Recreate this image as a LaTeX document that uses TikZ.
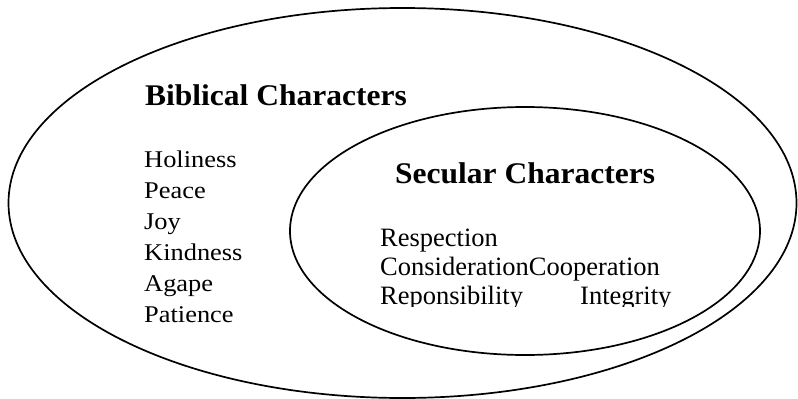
\documentclass[tikz,border=0pt]{standalone}
\usepackage{fontspec}
\setmainfont{Liberation Serif}
\tikzset{
  ring/.style={draw=black, line width=1.7pt},
  titletext/.style={anchor=base west, inner sep=0pt, font=\bfseries\fontsize{30}{30}\selectfont},
  outeritem/.style={anchor=base west, inner sep=0pt, font=\fontsize{24}{24}\selectfont},
  inneritem/.style={anchor=base west, inner sep=0pt, font=\fontsize{26.5}{26.5}\selectfont}
}
\begin{document}
\begin{tikzpicture}[x=1pt, y=-1pt]
\useasboundingbox (0,0) rectangle (798,399);
\fill[white] (0,0) rectangle (798,399);
% ellipses
\draw[ring] (402.5,203) ellipse [x radius=394pt, y radius=195pt];
\draw[ring] (525,231) ellipse [x radius=235pt, y radius=124pt];
% titles
\node[titletext] (bib) at (145,105) {\scalebox{1.05}[1]{Biblical Characters}};
\node[titletext] (sec) at (395,183) {\scalebox{1.05}[1]{Secular Characters}};
% outer list
\node[outeritem] (hol) at (144,167.3) {\scalebox{1.1}[1]{Holiness}};
\node[outeritem] (pea) at (144,198.3) {\scalebox{1.1}[1]{Peace}};
\node[outeritem] (joy) at (144,229.3) {\scalebox{1.1}[1]{Joy}};
\node[outeritem] (kin) at (144,260.3) {\scalebox{1.1}[1]{Kindness}};
\node[outeritem] (aga) at (144,291.3) {\scalebox{1.1}[1]{Agape}};
\node[outeritem] (pat) at (144,322.3) {\scalebox{1.1}[1]{Patience}};
% inner list
\node[inneritem] (res) at (380,246.7) {Respection};
\node[inneritem] (con) at (380,275.2) {ConsiderationCooperation};
\begin{scope}
\clip (300,280) rectangle (720,306.8);
\node[inneritem] (rep) at (380,304) {Reponsibility};
\node[inneritem] (int) at (580,304) {Integrity};
\end{scope}
\end{tikzpicture}
\end{document}
